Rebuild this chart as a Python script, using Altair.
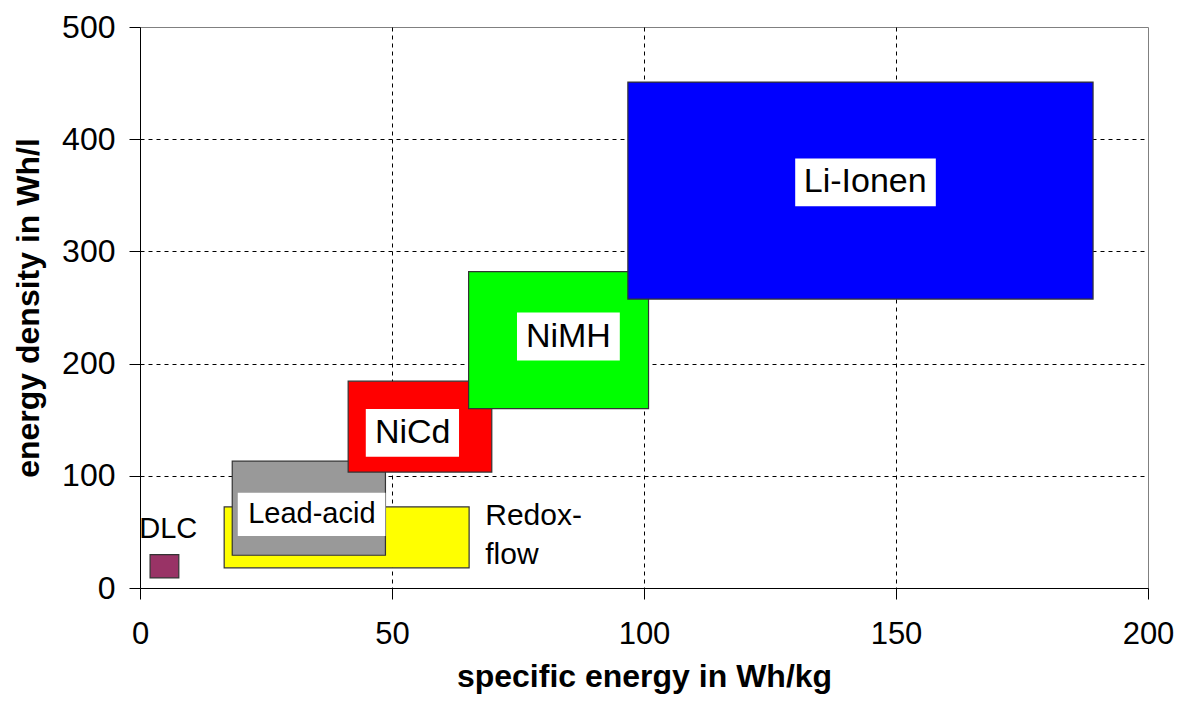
import altair as alt
import pandas as pd

# Technology boxes (specific energy Wh/kg, energy density Wh/l)
techs = ["DLC", "Redox-flow", "Lead-acid", "NiCd", "NiMH", "Li-Ionen"]
e_min = [2.0, 16.7, 18.3, 41.3, 65.2, 96.8]
e_max = [7.7, 65.3, 48.7, 69.8, 100.9, 189.1]
d_min = [9.0, 18.0, 29.2, 103.3, 159.8, 257.5]
d_max = [29.8, 72.3, 113.0, 184.3, 281.9, 450.9]
colors = ["#993366", "#FFFF00", "#999999", "#FF0000", "#00FF00", "#0000FF"]

# white label boxes
box_names = ["Lead-acid", "NiCd", "NiMH", "Li-Ionen"]
box_x1 = [19.4, 44.8, 74.8, 130.0]
box_x2 = [48.7, 63.3, 95.2, 157.9]
box_y1 = [46.4, 117.0, 202.7, 340.3]
box_y2 = [84.8, 159.6, 245.5, 382.8]

# labels
lab_text = ["Lead-acid", "NiCd", "NiMH", "Li-Ionen", "DLC"]
lab_x = [34.1, 54.1, 85.0, 143.9, 5.6]
lab_y = [65.6, 138.3, 224.1, 361.5, 52.7]
lab_size = [29, 34, 34, 34, 29]

side_text = ["Redox-", "flow"]
side_x = [68.5, 68.5]
side_y = [64.2, 29.2]

x_ticks = [0, 50, 100, 150, 200]
y_ticks = [0, 100, 200, 300, 400, 500]

FONT = "Liberation Sans"

rects = pd.DataFrame({"tech": techs, "x1": e_min, "x2": e_max,
                      "y1": d_min, "y2": d_max, "color": colors,
                      "order": list(range(len(techs)))})
boxes = pd.DataFrame({"name": box_names, "x1": box_x1, "x2": box_x2,
                      "y1": box_y1, "y2": box_y2})
labels = pd.DataFrame({"text": lab_text, "x": lab_x, "y": lab_y, "size": lab_size})
side = pd.DataFrame({"text": side_text, "x": side_x, "y": side_y})

xscale = alt.Scale(domain=[0, 200], nice=False, zero=False)
yscale = alt.Scale(domain=[0, 500], nice=False, zero=False)

xaxis = alt.Axis(
    values=x_ticks, title="specific energy in Wh/kg",
    gridOpacity=alt.condition("datum.value == 0 || datum.value == 200", alt.value(0), alt.value(1)),
)
yaxis = alt.Axis(
    values=y_ticks, title="energy density in Wh/l",
    gridOpacity=alt.condition("datum.value == 0 || datum.value == 500", alt.value(0), alt.value(1)),
)

rect_layer = alt.Chart(rects).mark_rect(stroke="#333333", strokeWidth=1.2).encode(
    x=alt.X("x1:Q", scale=xscale, axis=xaxis),
    x2="x2:Q",
    y=alt.Y("y1:Q", scale=yscale, axis=yaxis),
    y2="y2:Q",
    color=alt.Color("color:N", scale=None, legend=None),
    order=alt.Order("order:Q"),
)

box_layer = alt.Chart(boxes).mark_rect(color="white", strokeWidth=0).encode(
    x=alt.X("x1:Q", scale=xscale, axis=xaxis), x2="x2:Q",
    y=alt.Y("y1:Q", scale=yscale, axis=yaxis), y2="y2:Q",
)

label_layer = alt.Chart(labels).mark_text(
    font=FONT, color="black", align="center", baseline="middle"
).encode(
    x=alt.X("x:Q", scale=xscale, axis=xaxis), y=alt.Y("y:Q", scale=yscale, axis=yaxis),
    text="text:N", size=alt.Size("size:Q", scale=None, legend=None),
)

side_layer = alt.Chart(side).mark_text(
    font=FONT, color="black", align="left", baseline="middle", fontSize=30
).encode(
    x=alt.X("x:Q", scale=xscale, axis=xaxis), y=alt.Y("y:Q", scale=yscale, axis=yaxis),
    text="text:N",
)

chart = alt.layer(rect_layer, box_layer, label_layer, side_layer).properties(
    width=1008, height=561,
    autosize=alt.AutoSizeParams(type="none"),
    padding={"left": 132, "top": 19, "right": 26, "bottom": 110},
    background="white",
).configure_view(
    stroke="#808080", strokeWidth=1
).configure_axis(
    titleFont=FONT, titleFontSize=32, titleFontWeight="bold", titleColor="black",
    labelFont=FONT, labelFontSize=32, labelColor="black",
    labelFlush=False,
    domainColor="black", domainWidth=1, tickColor="black", tickSize=11, tickWidth=1,
    grid=True, gridColor="black", gridDash=[4, 4], gridWidth=1,
    titleLimit=1000, labelLimit=500,
).configure_axisX(
    labelPadding=20, titlePadding=12, labelFontSize=31,
).configure_axisY(
    labelPadding=14, titlePadding=16,
)

chart.save("out.html", embed_options={"renderer": "svg", "actions": False})
